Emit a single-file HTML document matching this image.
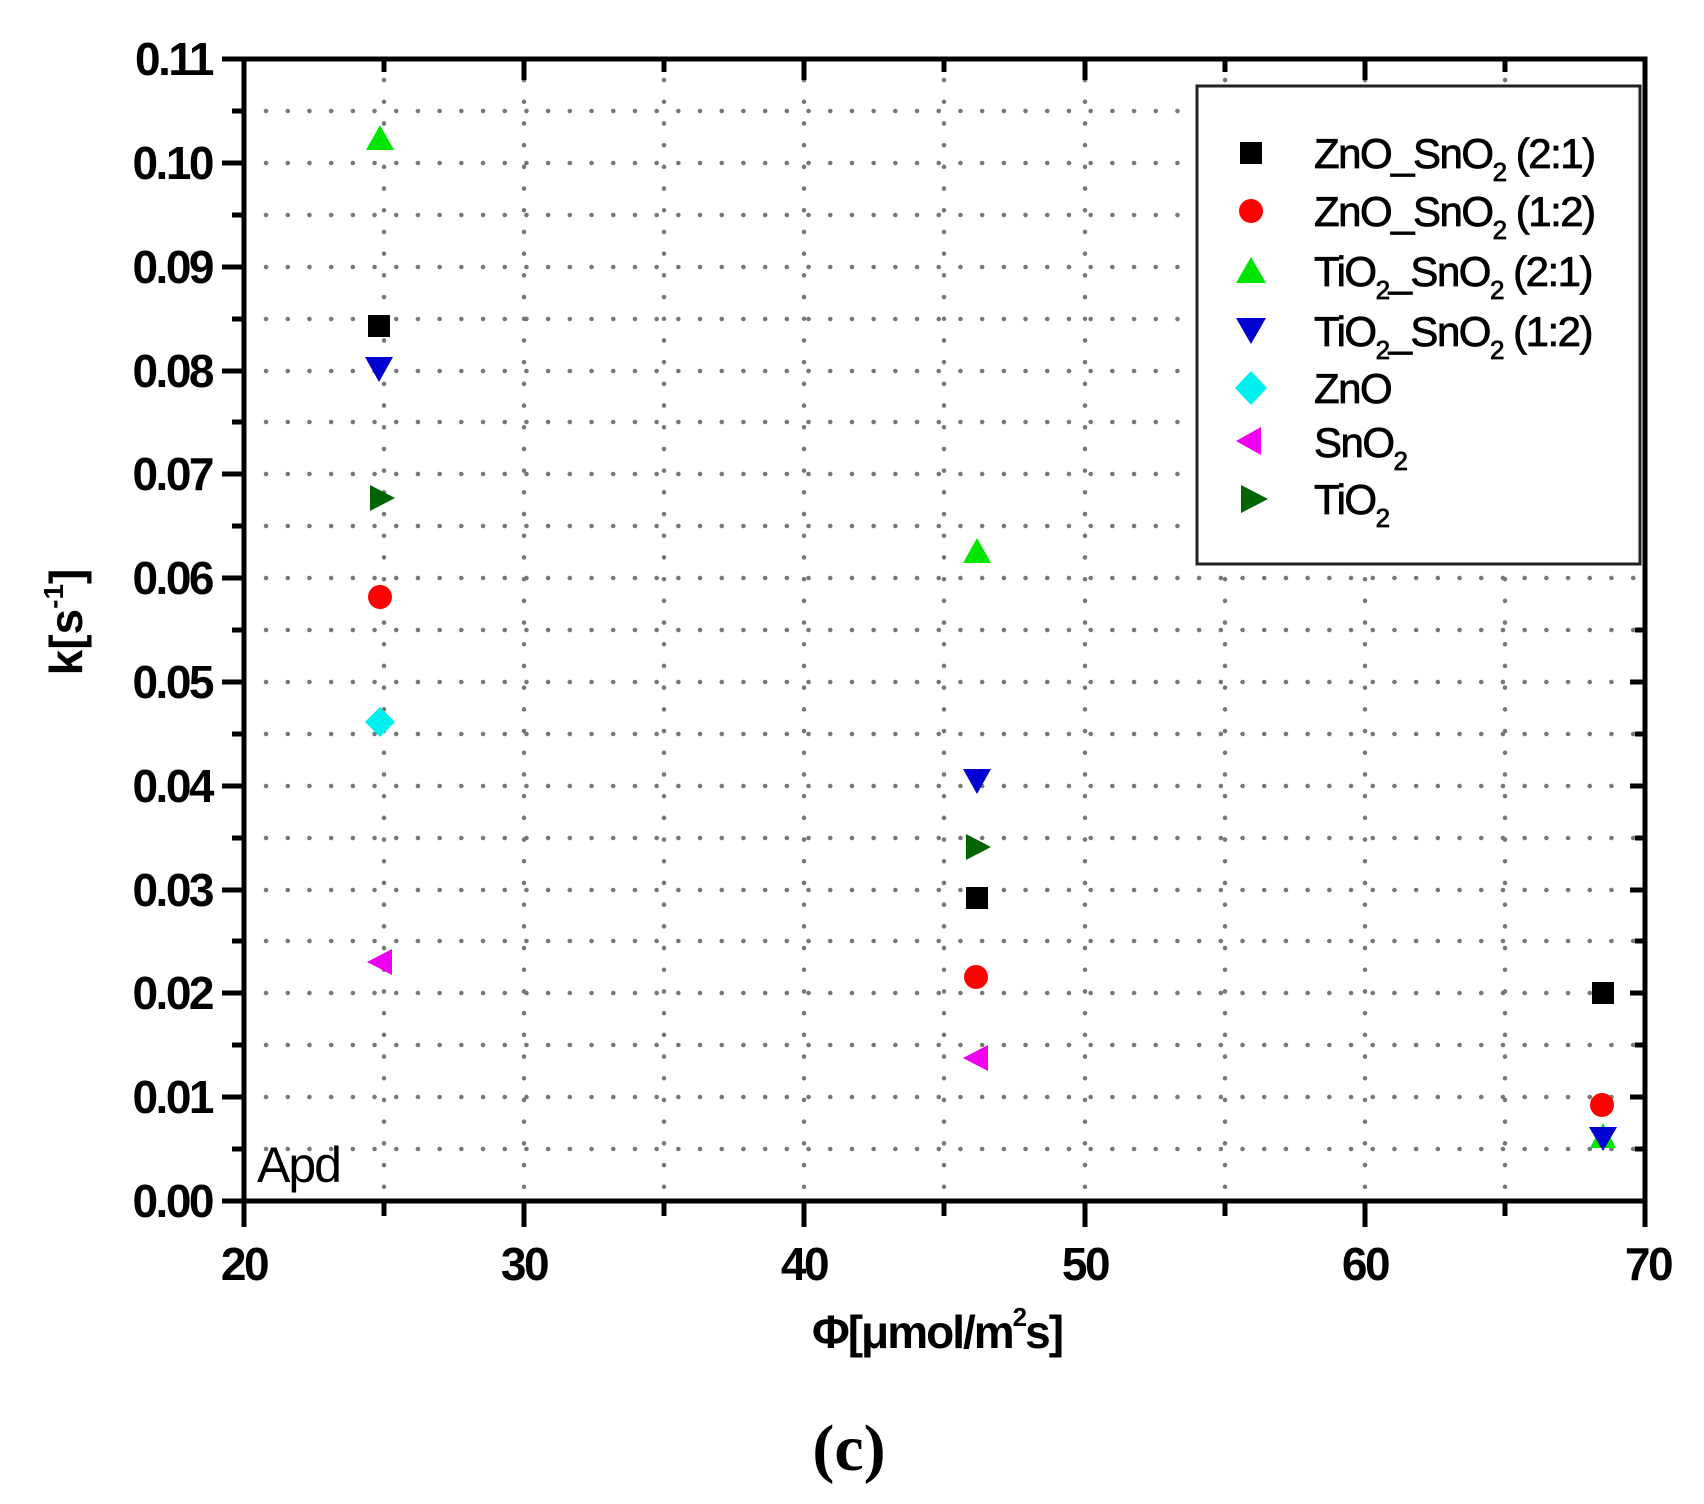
<!DOCTYPE html>
<html><head><meta charset="utf-8"><style>
html,body{margin:0;padding:0;background:#fff;}
svg{display:block;}
text{font-family:"Liberation Sans",Arial,sans-serif;}
</style></head><body>
<svg width="1704" height="1504" viewBox="0 0 1704 1504" xmlns="http://www.w3.org/2000/svg">
<!-- grid -->
<g stroke="#777" stroke-width="4.5" stroke-linecap="round" stroke-dasharray="0.1 21.6" fill="none">
<path d="M266 1149H1645M266 1097H1645M266 1045H1645M266 993H1645M266 941H1645M266 890H1645M266 838H1645M266 786H1645M266 734H1645M266 682H1645M266 630H1645M266 578H1645M266 526H1645M266 474H1645M266 422H1645M266 371H1645M266 319H1645M266 267H1645M266 215H1645M266 163H1645M266 111H1645"/>
<path d="M384 80V1201M524 80V1201M664 80V1201M804 80V1201M944 80V1201M1085 80V1201M1225 80V1201M1365 80V1201M1505 80V1201"/>
</g>
<!-- axes frame -->
<rect x="244" y="59" width="1401" height="1142" fill="none" stroke="#000" stroke-width="5"/>
<g stroke="#000" stroke-width="5">
<path d="M222 1201H244M222 1097H244M222 993H244M222 890H244M222 786H244M222 682H244M222 578H244M222 474H244M222 371H244M222 267H244M222 163H244M222 59H244"/>
<path d="M232 1149H244M232 1045H244M232 941H244M232 838H244M232 734H244M232 630H244M232 526H244M232 422H244M232 319H244M232 215H244M232 111H244"/>
<path d="M244 1201V1227M524 1201V1227M804 1201V1227M1085 1201V1227M1365 1201V1227M1645 1201V1227"/>
<path d="M384 1201V1216M664 1201V1216M944 1201V1216M1225 1201V1216M1505 1201V1216"/>
<path d="M384 59V72M664 59V72M944 59V72M1225 59V72M1505 59V72M524 59V80M804 59V80M1085 59V80M1365 59V80"/>
<path d="M1645 1149H1635M1645 1097H1630M1645 1045H1635M1645 993H1630M1645 941H1635M1645 890H1630M1645 838H1635M1645 786H1630M1645 734H1635M1645 682H1630M1645 630H1635"/>
</g>
<!-- tick labels -->
<g font-size="46" font-weight="bold" text-anchor="end" fill="#000" letter-spacing="-2.5">
<text x="212" y="1217">0.00</text><text x="212" y="1113">0.01</text><text x="212" y="1009">0.02</text><text x="212" y="906">0.03</text><text x="212" y="802">0.04</text><text x="212" y="698">0.05</text><text x="212" y="594">0.06</text><text x="212" y="490">0.07</text><text x="212" y="387">0.08</text><text x="212" y="283">0.09</text><text x="212" y="179">0.10</text><text x="212" y="75">0.11</text>
</g>
<g font-size="46" font-weight="bold" text-anchor="middle" fill="#000" letter-spacing="-2.5">
<text x="244" y="1280">20</text><text x="524" y="1280">30</text><text x="804" y="1280">40</text><text x="1085" y="1280">50</text><text x="1365" y="1280">60</text><text x="1648" y="1280">70</text>
</g>
<!-- axis titles -->
<text x="937" y="1348" font-size="46" font-weight="bold" text-anchor="middle" letter-spacing="-2">Φ[μmol/m<tspan font-size="26" dy="-22">2</tspan><tspan dy="22">s]</tspan></text>
<text transform="translate(82,622) rotate(-90)" font-size="46" font-weight="bold" text-anchor="middle">k[s<tspan font-size="28" dy="-19">-1</tspan><tspan dy="19">]</tspan></text>
<text x="257" y="1182" font-size="50" letter-spacing="-2">Apd</text>
<text x="849" y="1470" font-size="66" font-weight="bold" text-anchor="middle" style="font-family:'Liberation Serif',serif">(c)</text>
<!-- data -->
<g>
<polygon points="380,125 366,150 394,150" fill="#00e600"/>
<rect x="368" y="315" width="22" height="22" fill="#000"/>
<polygon points="365,357 393,357 379,382" fill="#0000d0"/>
<polygon points="370,485 370,511 395,498" fill="#006400"/>
<circle cx="380" cy="597" r="12" fill="#f00"/>
<polygon points="380,707 395,722 380,737 365,722" fill="#00f0f0"/>
<polygon points="392,949 392,975 367,962" fill="#f000f0"/>
<polygon points="977,538 963,563 991,563" fill="#00e600"/>
<polygon points="963,769 991,769 977,794" fill="#0000d0"/>
<polygon points="966,834 966,860 991,847" fill="#006400"/>
<rect x="966" y="887" width="22" height="22" fill="#000"/>
<circle cx="976" cy="977" r="12" fill="#f00"/>
<polygon points="988,1045 988,1071 963,1058" fill="#f000f0"/>
<rect x="1592" y="982" width="22" height="22" fill="#000"/>
<polygon points="1603,1123 1616,1148 1590,1148" fill="#00e600"/>
<circle cx="1602" cy="1105" r="12" fill="#f00"/>
<polygon points="1589,1127 1617,1127 1603,1151" fill="#0000d0"/>
</g>
<!-- legend -->
<rect x="1197" y="86" width="443" height="478" fill="#fff" stroke="#222" stroke-width="3"/>
<rect x="1240" y="142" width="22" height="22" fill="#000"/>
<circle cx="1251" cy="211" r="12" fill="#f00"/>
<polygon points="1251,257 1236,283 1266,283" fill="#00e600"/>
<polygon points="1236,318 1266,318 1251,344" fill="#0000d0"/>
<polygon points="1251,371 1267,388 1251,405 1235,388" fill="#00f0f0"/>
<polygon points="1261,427 1261,455 1236,441" fill="#f000f0"/>
<polygon points="1241,485 1241,513 1268,499" fill="#006400"/>
<g font-size="42" fill="#000" stroke="#000" stroke-width="0.8" letter-spacing="-1.5">
<text x="1314" y="168">ZnO_SnO<tspan font-size="26" dy="13">2</tspan><tspan dy="-13"> (2:1)</tspan></text>
<text x="1314" y="226">ZnO_SnO<tspan font-size="26" dy="13">2</tspan><tspan dy="-13"> (1:2)</tspan></text>
<text x="1314" y="286">TiO<tspan font-size="26" dy="13">2</tspan><tspan dy="-13">_SnO</tspan><tspan font-size="26" dy="13">2</tspan><tspan dy="-13"> (2:1)</tspan></text>
<text x="1314" y="346">TiO<tspan font-size="26" dy="13">2</tspan><tspan dy="-13">_SnO</tspan><tspan font-size="26" dy="13">2</tspan><tspan dy="-13"> (1:2)</tspan></text>
<text x="1314" y="403">ZnO</text>
<text x="1314" y="457">SnO<tspan font-size="26" dy="13">2</tspan></text>
<text x="1314" y="514">TiO<tspan font-size="26" dy="13">2</tspan></text>
</g>
</svg>
</body></html>
